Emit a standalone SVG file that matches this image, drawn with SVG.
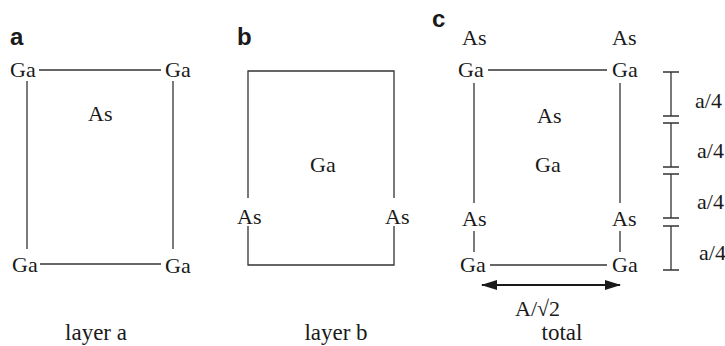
<svg xmlns="http://www.w3.org/2000/svg" width="725" height="346" viewBox="0 0 725 346">
  <style>
    .atom { font-family: "Liberation Serif", "Times New Roman", serif; font-size: 22px; fill: #1a1a1a; }
    .cap { font-family: "Liberation Serif", "Times New Roman", serif; font-size: 23px; fill: #1a1a1a; text-anchor: middle; }
    .panel { font-family: "Liberation Sans", Arial, sans-serif; font-size: 24px; font-weight: bold; fill: #1a1a1a; }
    .bond { stroke: #333; stroke-width: 1.3; fill: none; }
  </style>
  <defs>
    <marker id="arrowhead" viewBox="0 0 16 10" refX="15" refY="5" markerWidth="16" markerHeight="10" markerUnits="userSpaceOnUse" orient="auto-start-reverse">
      <path d="M0,0 L16,5 L0,10 Z" fill="#1a1a1a"/>
    </marker>
  </defs>

  <!-- panel labels -->
  <text class="panel" x="10" y="45">a</text>
  <text class="panel" x="237" y="45">b</text>
  <text class="panel" x="432" y="27">c</text>

  <!-- layer a -->
  <g id="layer-a">
    <text class="atom" x="10" y="77">Ga</text>
    <text class="atom" x="165" y="77">Ga</text>
    <text class="atom" x="88" y="121">As</text>
    <text class="atom" x="12" y="272">Ga</text>
    <text class="atom" x="165" y="273">Ga</text>
    <text class="cap" x="96" y="340">layer a</text>
  </g>

  <!-- layer b -->
  <g id="layer-b">
    <text class="atom" x="310" y="172">Ga</text>
    <text class="atom" x="237" y="224">As</text>
    <text class="atom" x="385" y="224">As</text>
    <text class="cap" x="336" y="340">layer b</text>
  </g>

  <!-- combined cell -->
  <g id="total">
    <text class="atom" x="462" y="45">As</text>
    <text class="atom" x="612" y="45">As</text>
    <text class="atom" x="458" y="77">Ga</text>
    <text class="atom" x="612" y="77">Ga</text>
    <text class="atom" x="537" y="123">As</text>
    <text class="atom" x="535" y="172">Ga</text>
    <text class="atom" x="462" y="226">As</text>
    <text class="atom" x="612" y="226">As</text>
    <text class="atom" x="460" y="272">Ga</text>
    <text class="atom" x="612" y="272">Ga</text>
    <text class="atom" x="515" y="316">A/√2</text>
    <text class="cap" x="562" y="340">total</text>
  </g>

  <!-- quarter-height scale -->
  <g id="scale">
    <text class="atom" x="695" y="108">a/4</text>
    <text class="atom" x="697" y="158">a/4</text>
    <text class="atom" x="697" y="209">a/4</text>
    <text class="atom" x="699" y="260">a/4</text>
  </g>

  <g id="connectors" class="bond">
    <!-- layer a square -->
    <line x1="39" y1="70" x2="161" y2="70"/>
    <line x1="40" y1="264" x2="161" y2="264"/>
    <line x1="27" y1="81" x2="27" y2="249"/>
    <line x1="173" y1="81" x2="173" y2="249"/>

    <!-- layer b frame -->
    <polyline points="248,198 248,71 394,71 394,198"/>
    <polyline points="248,226 248,265 394,265 394,226"/>

    <!-- total cell -->
    <line x1="488" y1="70" x2="607" y2="70"/>
    <line x1="490" y1="265" x2="607" y2="265"/>
    <line x1="474" y1="83" x2="474" y2="203"/>
    <line x1="474" y1="231" x2="474" y2="252"/>
    <line x1="620" y1="83" x2="620" y2="203"/>
    <line x1="620" y1="231" x2="620" y2="252"/>

    <!-- width arrow -->
    <line x1="482" y1="285" x2="620" y2="285" stroke="#1a1a1a" stroke-width="2" marker-start="url(#arrowhead)" marker-end="url(#arrowhead)"/>

    <!-- scale bars -->
    <path d="M671,72 V116 M663,72 H679 M663,116 H679"/>
    <path d="M671,123 V167 M663,123 H679 M663,167 H679"/>
    <path d="M671,174 V218 M663,174 H679 M663,218 H679"/>
    <path d="M671,226 V270 M663,226 H679 M663,270 H679"/>
  </g>
</svg>
